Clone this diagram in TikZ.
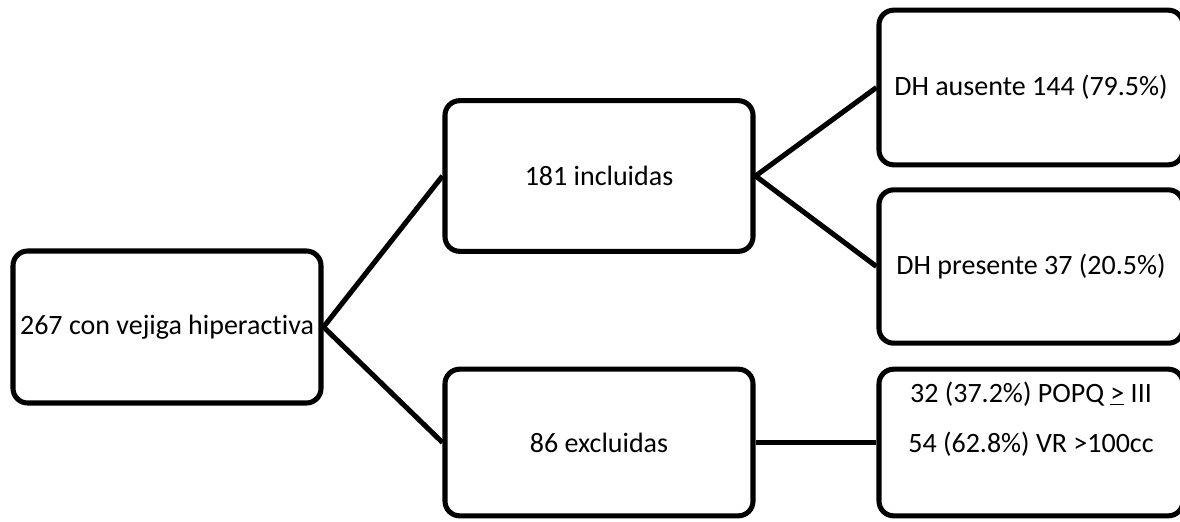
\documentclass[tikz,border=0pt]{standalone}
\usepackage{fontspec}
\setmainfont{Carlito}[Ligatures=NoCommon]

\begin{document}
\begin{tikzpicture}[x=0.75pt, y=-0.75pt,
  caja/.style={draw, line width=3.8pt, rounded corners=11pt, fill=white,
    align=center, inner sep=0pt, font=\fontsize{21}{37.5}\selectfont},
  rama/.style={line width=3.8pt}]
  \useasboundingbox (0,0) rectangle (1180,521);

  % nivel 1
  \node[caja, minimum width=231pt, minimum height=114pt] (total) at (167,327)
    {267 con vejiga hiperactiva};

  % nivel 2
  \node[caja, minimum width=231pt, minimum height=113pt] (incl) at (599,176)
    {181 incluidas};
  \node[caja, minimum width=231pt, minimum height=110pt] (excl) at (599,442.5)
    {86 excluidas};

  % nivel 3 (cortado por el borde derecho)
  \node[caja, minimum width=228pt, minimum height=116pt] (ausente) at (1031,87.5)
    {DH ausente 144 (79.5\%)};
  \node[caja, minimum width=228pt, minimum height=115pt] (presente) at (1031,266.5)
    {DH presente 37 (20.5\%)};
  \node[caja, minimum width=228pt, minimum height=110pt] (motivos) at (1031,442.5)
    {32 (37.2\%) POPQ \underline{>} III\\ 54 (62.8\%) VR >100cc\\ \mbox{}};

  \draw[rama] (total.east) -- (incl.west);
  \draw[rama] (total.east) -- (excl.west);
  \draw[rama] (incl.east) -- (ausente.west);
  \draw[rama] (incl.east) -- (presente.west);
  \draw[rama] (excl.east) -- (motivos.west);
\end{tikzpicture}
\end{document}
